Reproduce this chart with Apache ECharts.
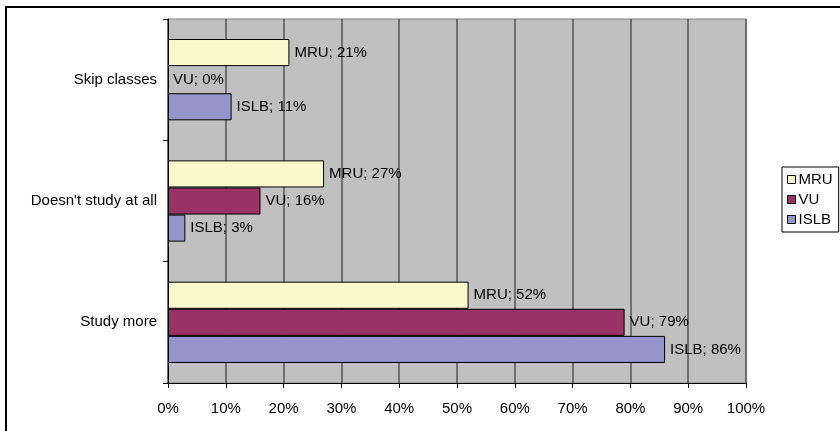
<!DOCTYPE html>
<html>
<head>
<meta charset="utf-8">
<script src="https://cdn.jsdelivr.net/npm/echarts@6/dist/echarts.min.js"></script>
<style>
  html, body { margin: 0; padding: 0; background: #fff; }
  #chart { width: 840px; height: 431px; }
</style>
</head>
<body>
<div id="chart"></div>
<script>
// Categories listed bottom to top along the vertical axis
const categories = ['Study more', "Doesn't study at all", 'Skip classes'];

// Percent of respondents per university
const islb = [86, 3, 11];
const vu = [79, 16, 0];
const mru = [52, 27, 21];

const xTicks = [0, 10, 20, 30, 40, 50, 60, 70, 80, 90, 100];

const FONT = '"Liberation Sans", Arial, sans-serif';

function makeSeries(name, values, color) {
  return {
    name: name,
    type: 'bar',
    barGap: '0%',
    barCategoryGap: '33%',
    data: values.map(v => (v === 0
      ? { value: v, itemStyle: { borderWidth: 0 } }
      : v)),
    itemStyle: { color: color, borderColor: '#000', borderWidth: 1 },
    label: {
      show: true,
      position: 'right',
      distance: 5,
      color: '#000',
      fontFamily: FONT,
      fontSize: 15,
      formatter: p => p.seriesName + '; ' + p.value + '%'
    }
  };
}

const chart = echarts.init(document.getElementById('chart'), null, { renderer: 'canvas' });
chart.setOption({
  animation: false,
  backgroundColor: '#fff',
  textStyle: { fontFamily: FONT },
  grid: {
    left: 168, right: 94, top: 19, bottom: 48,
    show: true,
    backgroundColor: '#C0C0C0',
    borderColor: '#808080',
    borderWidth: 1
  },
  legend: {
    orient: 'vertical',
    left: 782, top: 167,
    data: ['MRU', 'VU', 'ISLB'],
    icon: 'rect',
    itemWidth: 8, itemHeight: 8, itemGap: 5,
    padding: [5, 6, 5, 5],
    borderColor: '#000', borderWidth: 1,
    backgroundColor: '#fff',
    textStyle: { color: '#000', fontSize: 15, fontFamily: FONT, padding: [0, 0, 0, -2] },
    itemStyle: { borderColor: '#000', borderWidth: 1 },
    selectedMode: false
  },
  xAxis: {
    type: 'value',
    min: xTicks[0], max: xTicks[xTicks.length - 1], interval: 10,
    axisLine: { show: true, lineStyle: { color: '#000', width: 1 } },
    axisTick: { show: true, length: 5, lineStyle: { color: '#000' } },
    axisLabel: { color: '#000', fontSize: 15, fontFamily: FONT, margin: 18, formatter: '{value}%' },
    splitLine: { show: true, lineStyle: { color: '#555', width: 1.5 } }
  },
  yAxis: {
    type: 'category',
    data: categories,
    axisLine: { show: true, lineStyle: { color: '#000', width: 1 } },
    axisTick: { show: true, length: 5, lineStyle: { color: '#000' } },
    axisLabel: { color: '#000', fontSize: 15, fontFamily: FONT, margin: 11 },
    splitLine: { show: false }
  },
  // Within each category the first series sits on top: MRU, then VU, then ISLB
  series: [
    makeSeries('MRU', mru, '#FAF8CC'),
    makeSeries('VU', vu, '#993366'),
    makeSeries('ISLB', islb, '#9595CB')
  ],
  graphic: [{
    type: 'rect',
    shape: { x: 6, y: 7, width: 900, height: 500 },
    style: { fill: 'none', stroke: '#000', lineWidth: 2 },
    silent: true
  }]
});
</script>
</body>
</html>
